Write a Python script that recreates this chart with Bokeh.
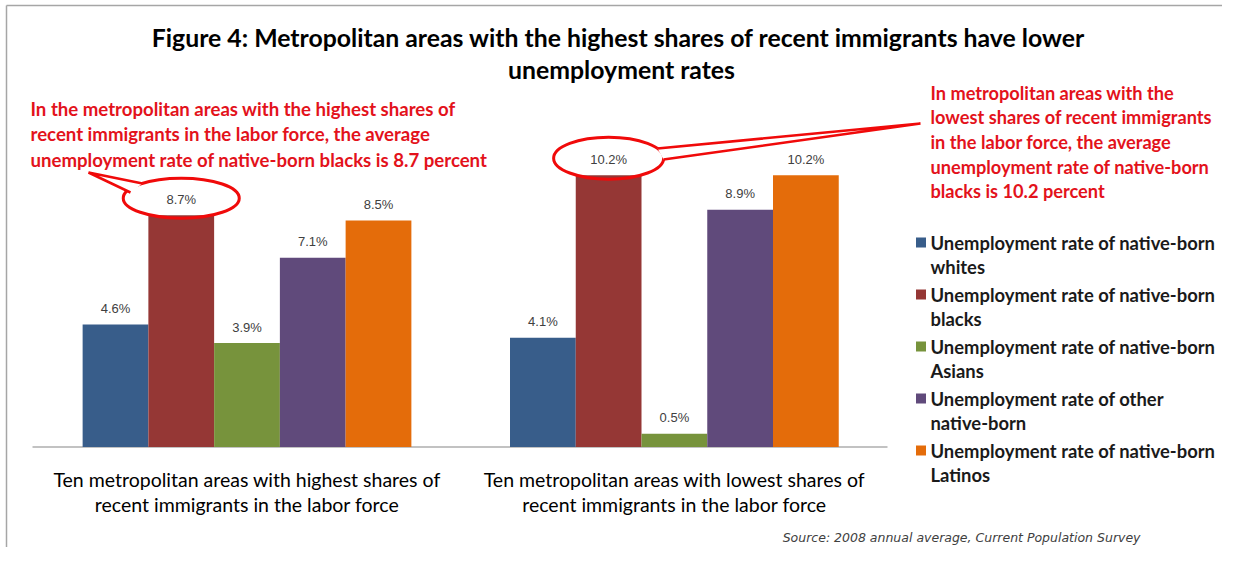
from bokeh.plotting import figure
from bokeh.models import Range1d
from bokeh.core.properties import value
from bokeh.embed import file_html
from bokeh.resources import INLINE

# ---------------- data ----------------
group_labels = [
    ["Ten metropolitan areas with highest shares of", "recent immigrants in the labor force"],
    ["Ten metropolitan areas with lowest shares of", "recent immigrants in the labor force"],
]
series_names = [
    ["Unemployment rate of native-born", "whites"],
    ["Unemployment rate of native-born", "blacks"],
    ["Unemployment rate of native-born", "Asians"],
    ["Unemployment rate of other", "native-born"],
    ["Unemployment rate of native-born", "Latinos"],
]
colors = ["#385D8A", "#953735", "#77933C", "#604A7B", "#E46C0A"]
highest_shares = [4.6, 8.7, 3.9, 7.1, 8.5]
lowest_shares = [4.1, 10.2, 0.5, 8.9, 10.2]
values_by_group = [highest_shares, lowest_shares]

title_lines = [
    "Figure 4:  Metropolitan areas with the highest shares of recent immigrants have lower",
    "unemployment rates",
]
note_left = [
    "In the metropolitan areas with the highest shares of",
    "recent immigrants in the labor force, the average",
    "unemployment rate of native-born blacks is 8.7 percent",
]
note_right = [
    "In metropolitan areas with the",
    "lowest shares of recent immigrants",
    "in the labor force, the average",
    "unemployment rate of native-born",
    "blacks is 10.2 percent",
]
source_text = "Source: 2008 annual average, Current Population Survey"
highlight_series = 1  # native-born blacks

# ---------------- layout (picture pixels) ----------------
W, H = 1222, 547
BW = 65.75      # px per bar
PPU = 26.65     # px per percentage point
BASE = 446.5    # y of the baseline
G1 = 246.5      # x of first group centre
GAP = 6.5       # group spacing in bar widths


def X(px):
    return (px - G1) / BW


def Y(py):
    return (BASE - py) / PPU


p = figure(width=W, height=H,
           x_range=Range1d(X(0), X(W)),
           y_range=Range1d(Y(H), Y(0)),
           output_backend="svg", toolbar_location=None,
           x_axis_location=None, y_axis_location=None, min_border=0)
p.grid.visible = False
p.outline_line_color = None
p.background_fill_color = "white"
p.border_fill_color = "white"

MAIN_FONT = "Lato"
RED = "#E3121B"
LINE_RED = "#F00A0A"

# chart-area border (left and top)
p.segment(x0=[X(6), X(6)], y0=[Y(5), Y(5)], x1=[X(6), X(W)], y1=[Y(H), Y(5)],
          line_color="#A6A6A6", line_width=1.5)

# baseline
p.segment(x0=[X(32)], y0=[0], x1=[X(887)], y1=[0], line_color="#868686", line_width=1.2)

# bars + value labels
for g, vals in enumerate(values_by_group):
    gc = g * GAP
    xs = [gc + (j - 2) for j in range(len(vals))]
    p.vbar(x=xs, top=vals, bottom=0, width=1.0, fill_color=colors, line_color=None)
    p.text(x=xs, y=vals, text=[f"{v}%" for v in vals], y_offset=-16,
           text_align="center", text_baseline="middle",
           text_font=value("Liberation Sans"), text_font_size=value("13px"),
           text_color="#404040")
    # category labels under the baseline
    p.text(x=[gc, gc], y=[0, 0], text=group_labels[g], y_offset=[32, 57],
           text_align="center", text_baseline="middle",
           text_font=value(MAIN_FONT), text_font_size=value("19.5px"), text_color="#000000")

# highlight ellipses around native-born blacks labels
hx = [g * GAP + (highlight_series - 2) for g in range(2)]
hy = [vals[highlight_series] + 17 / PPU for vals in values_by_group]
p.ellipse(x=hx, y=hy, width=[116, 110], height=[40, 42], width_units="screen",
          height_units="screen", fill_color=None, line_color=LINE_RED, line_width=3)

# callout tails
tails = [
    [(130, 192), (88, 172), (142, 183)],
    [(657, 148), (920, 123), (663, 159)],
]
for t in tails:
    xs = [X(a) for a, b in t]
    ys = [Y(b) for a, b in t]
    p.patch(x=xs, y=ys, fill_color="white", line_color=None)
    p.line(x=xs, y=ys, line_color=LINE_RED, line_width=2.5)

# title
p.text(x=[X(621)] * 2, y=[Y(37), Y(69)], text=title_lines, text_align="center",
       text_baseline="middle", text_font=value(MAIN_FONT), text_font_style="bold",
       text_font_size=value("24.8px"), text_color="#000000")

# red notes
p.text(x=[X(30)] * len(note_left), y=[Y(108 + 25.5 * i) for i in range(len(note_left))],
       text=note_left, text_align="left", text_baseline="middle",
       text_font=value(MAIN_FONT), text_font_style="bold",
       text_font_size=value("18.6px"), text_color=RED)
p.text(x=[X(930)] * len(note_right), y=[Y(92 + 24.7 * i) for i in range(len(note_right))],
       text=note_right, text_align="left", text_baseline="middle",
       text_font=value(MAIN_FONT), text_font_style="bold",
       text_font_size=value("18.2px"), text_color=RED)

# legend (manual)
for k, (name, c) in enumerate(zip(series_names, colors)):
    y0 = 242 + 52 * k
    p.scatter(x=[X(920.5)], y=[Y(y0)], marker="square", size=10, fill_color=c, line_color=None)
    p.text(x=[X(930)] * 2, y=[Y(y0), Y(y0 + 24.5)], text=name, text_align="left",
           text_baseline="middle", text_font=value(MAIN_FONT), text_font_style="bold",
           text_font_size=value("18.4px"), text_color="#1A1A1A")

# source
p.text(x=[X(1140)], y=[Y(537)], text=[source_text], text_align="right",
       text_baseline="middle", text_font=value("DejaVu Sans"), text_font_style="italic",
       text_font_size=value("12.5px"), text_color="#404040")

open("out.html", "w").write(file_html(p, INLINE))
